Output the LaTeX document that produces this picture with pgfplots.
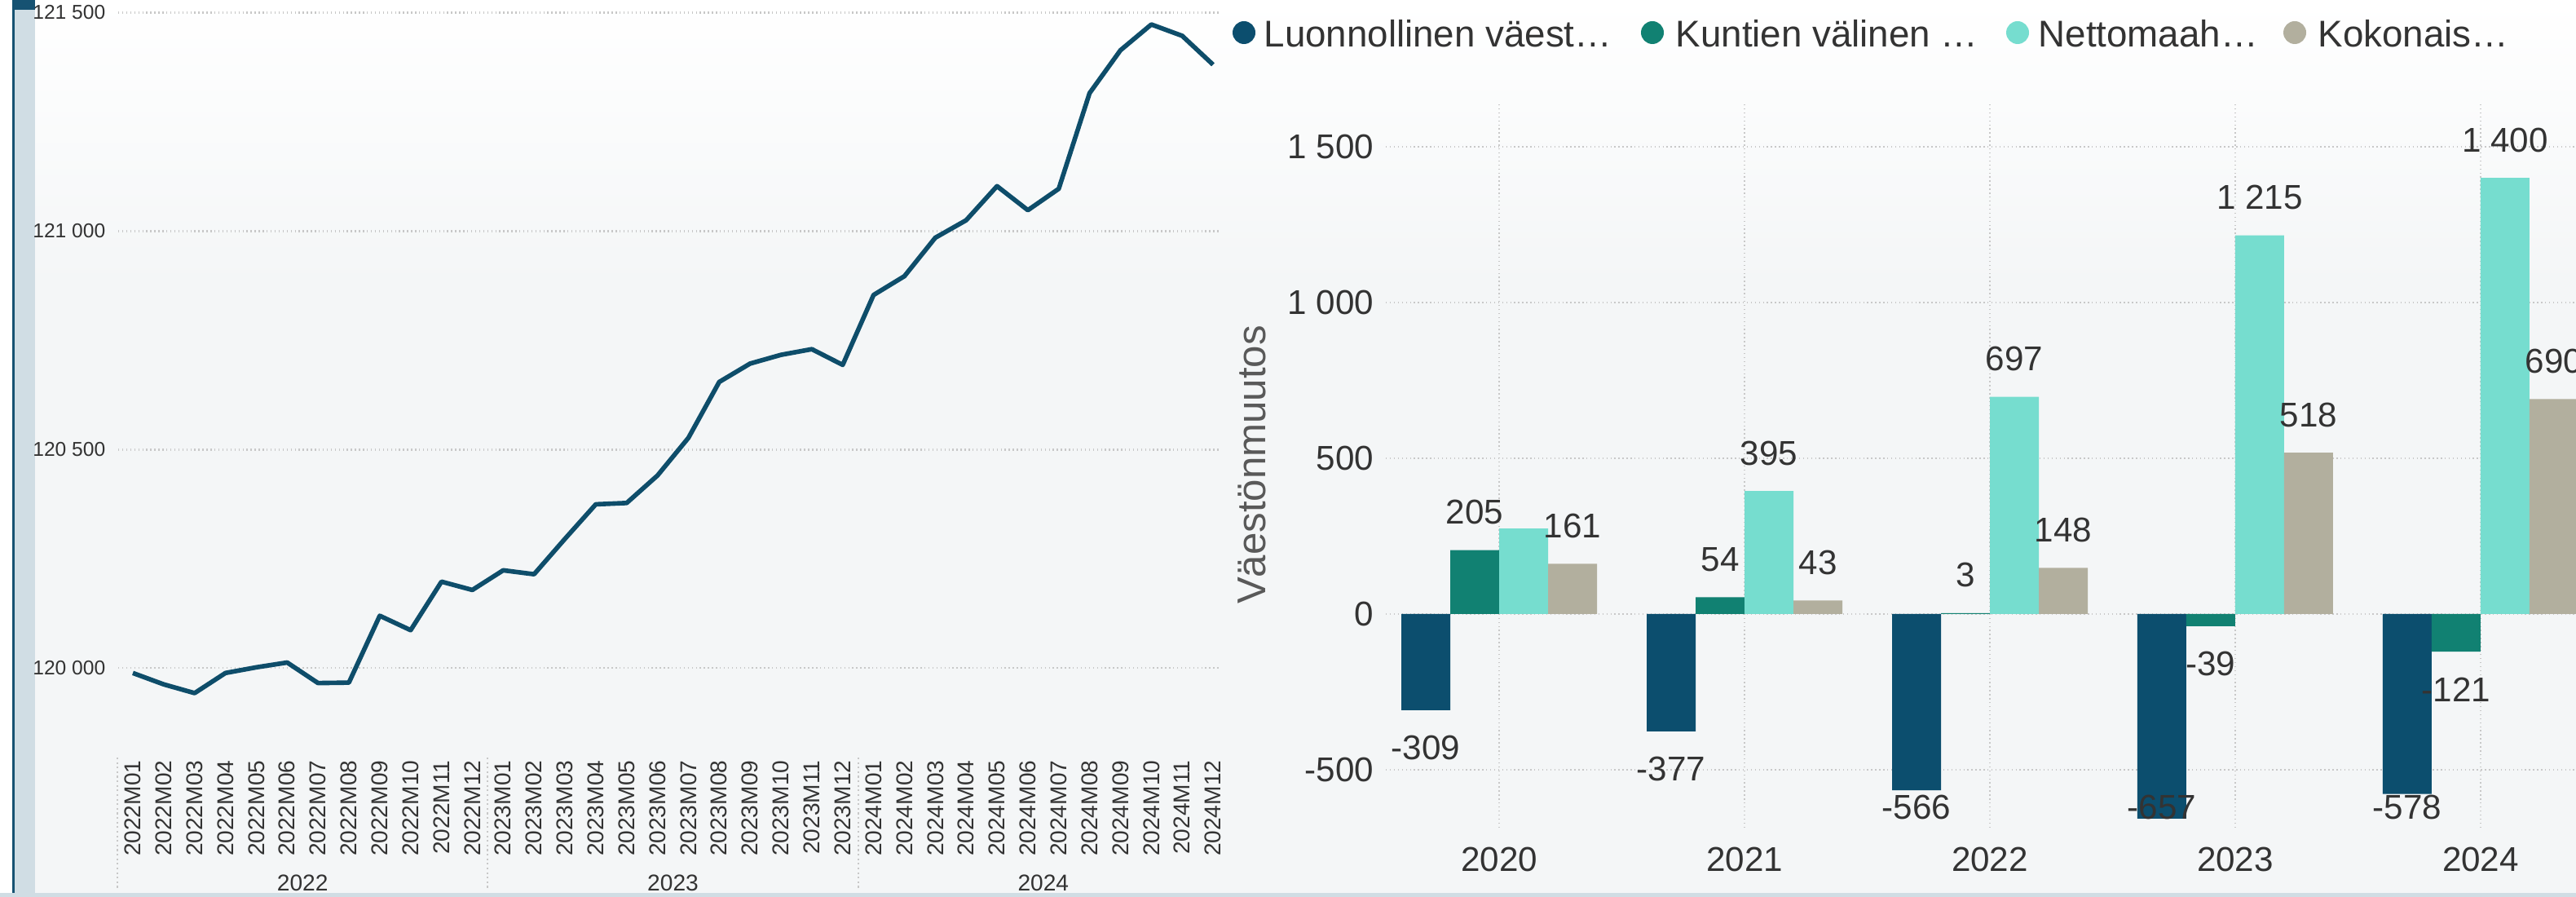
\documentclass[border=0pt]{standalone}
\usepackage{pgfplots}
\pgfplotsset{compat=1.18}
\usepackage{fontspec}
\setmainfont{Liberation Sans}

\definecolor{bgc}{RGB}{244,246,247}
\definecolor{stripc}{RGB}{208,221,228}
\definecolor{edgec}{RGB}{22,82,114}
\definecolor{linec}{RGB}{14,77,106}
\definecolor{luon}{RGB}{12,78,110}
\definecolor{kunt}{RGB}{17,129,114}
\definecolor{netto}{RGB}{118,221,207}
\definecolor{koko}{RGB}{178,175,158}
\definecolor{txt}{RGB}{51,51,51}
\definecolor{gridc}{RGB}{200,200,200}

\begin{document}
\begin{tikzpicture}[x=1cm,y=1cm]
\useasboundingbox (0,0) rectangle (31.6,11);
% page background and frame strips
\fill[bgc] (0,0) rectangle (31.6,11);
\shade[top color=white, bottom color=bgc] (0,7.5) rectangle (31.6,11);
\fill[white] (0,0) rectangle (0.15,11);
\fill[edgec] (0.15,0) rectangle (0.18,11);
\fill[stripc] (0.18,0) rectangle (0.43,11);
\fill[edgec] (0.15,10.88) rectangle (0.43,11);
\fill[stripc] (0,0) rectangle (31.6,0.05);

% left: monthly population
\begin{axis}[
  at={(1.45cm,1.75cm)}, anchor=south west,
  scale only axis, width=13.51cm, height=9.25cm,
  xmin=-0.475, xmax=35.21, ymin=119803, ymax=121529,
  enlargelimits=false, clip=false,
  axis line style={draw=none}, tick style={draw=none},
  ymajorgrids, grid style={densely dotted, gridc, line width=0.6pt},
  ytick={120000,120500,121000,121500},
  yticklabels={120\ 000,120\ 500,121\ 000,121\ 500},
  yticklabel style={font=\fontsize{7}{8}\selectfont, text=txt, inner sep=0pt},
  yticklabel shift=0.15cm,
  xtick={0,...,35},
  xticklabels={2022M01,2022M02,2022M03,2022M04,2022M05,2022M06,2022M07,2022M08,2022M09,2022M10,2022M11,2022M12,
               2023M01,2023M02,2023M03,2023M04,2023M05,2023M06,2023M07,2023M08,2023M09,2023M10,2023M11,2023M12,
               2024M01,2024M02,2024M03,2024M04,2024M05,2024M06,2024M07,2024M08,2024M09,2024M10,2024M11,2024M12},
  xticklabel style={rotate=90, anchor=east, font=\fontsize{8}{9}\selectfont, text=txt, inner sep=0pt},
  xticklabel shift=0.07cm,
]
\addplot[linec, line width=1.6pt, line join=round, mark=none] coordinates {
  (0,119989) (1,119963) (2,119943) (3,119989) (4,120002) (5,120013)
  (6,119966) (7,119967) (8,120120) (9,120087) (10,120198) (11,120179)
  (12,120224) (13,120215) (14,120296) (15,120375) (16,120378) (17,120441)
  (18,120527) (19,120655) (20,120697) (21,120717) (22,120730) (23,120694)
  (24,120854) (25,120897) (26,120985) (27,121025) (28,121103) (29,121048)
  (30,121097) (31,121316) (32,121414) (33,121473) (34,121447) (35,121381)
};
\draw[densely dotted, gridc, line width=0.6pt] (axis cs:-0.5,119803) ++(0pt,-0.04cm) -- ++(0pt,-1.61cm);
\draw[densely dotted, gridc, line width=0.6pt] (axis cs:11.5,119803) ++(0pt,-0.04cm) -- ++(0pt,-1.61cm);
\draw[densely dotted, gridc, line width=0.6pt] (axis cs:23.5,119803) ++(0pt,-0.04cm) -- ++(0pt,-1.61cm);
\node[font=\fontsize{8}{9}\selectfont, text=txt, yshift=-1.58cm] at (axis cs:5.5,119803) {2022};
\node[font=\fontsize{8}{9}\selectfont, text=txt, yshift=-1.58cm] at (axis cs:17.5,119803) {2023};
\node[font=\fontsize{8}{9}\selectfont, text=txt, yshift=-1.58cm] at (axis cs:29.5,119803) {2024};
\end{axis}

% right: components of population change
\begin{axis}[
  at={(17.00cm,0.85cm)}, anchor=south west,
  scale only axis, width=14.6cm, height=8.89cm,
  xmin=-0.462, xmax=4.389, ymin=-686, ymax=1641,
  enlargelimits=false,
  ybar=0pt, bar width=0.6cm,
  axis line style={draw=none}, tick style={draw=none},
  xmajorgrids, ymajorgrids, grid style={densely dotted, gridc, line width=0.6pt},
  xtick={0,...,4}, xticklabels={2020,2021,2022,2023,2024},
  xticklabel style={font=\fontsize{12}{14}\selectfont, text=txt, inner sep=0pt},
  xticklabel shift=0.08cm,
  ytick={-500,0,500,1000,1500}, yticklabels={-500,0,500,1\ 000,1\ 500},
  yticklabel style={font=\fontsize{12}{14}\selectfont, text=txt, inner sep=0pt},
  yticklabel shift=0.14cm,
  point meta=explicit symbolic,
  nodes near coords={\pgfplotspointmeta},
  visualization depends on={rawy \as \rawy},
  every node near coord/.append style={font=\fontsize{12}{14}\selectfont, text=txt,
    anchor=center, inner sep=0pt,
    yshift={((\rawy<0) ? (max(\rawy-121.7,-621.7)-\rawy) : 121.7)*0.1087}},
]
\addplot[draw=none, fill=luon] coordinates {
  (0,-309) [-309] (1,-377) [-377] (2,-566) [-566] (3,-657) [-657] (4,-578) [-578]};
\addplot[draw=none, fill=kunt] coordinates {
  (0,205) [205] (1,54) [54] (2,3) [3] (3,-39) [-39] (4,-121) [-121]};
\addplot[draw=none, fill=netto] coordinates {
  (0,274) [{}] (1,395) [395] (2,697) [697] (3,1215) [1\ 215] (4,1400) [1\ 400]};
\addplot[draw=none, fill=koko] coordinates {
  (0,161) [161] (1,43) [43] (2,148) [148] (3,518) [518] (4,690) [690]};
\end{axis}

% y label and legend of the bar chart
\node[rotate=90, font=\fontsize{14}{16}\selectfont, text=black!65] at (15.36,5.30) {Väestönmuutos};
\fill[luon]  (15.26,10.60) circle (0.14);
\fill[kunt]  (20.27,10.60) circle (0.14);
\fill[netto] (24.75,10.60) circle (0.14);
\fill[koko]  (28.15,10.60) circle (0.14);
\begin{scope}[every node/.style={anchor=base west, inner sep=0pt, font=\fontsize{13}{15}\selectfont, text=txt}]
\node at (15.50,10.42) {Luonnollinen väest…};
\node at (20.55,10.42) {Kuntien välinen …};
\node at (25.00,10.42) {Nettomaah…};
\node at (28.43,10.42) {Kokonais…};
\end{scope}
\end{tikzpicture}
\end{document}
